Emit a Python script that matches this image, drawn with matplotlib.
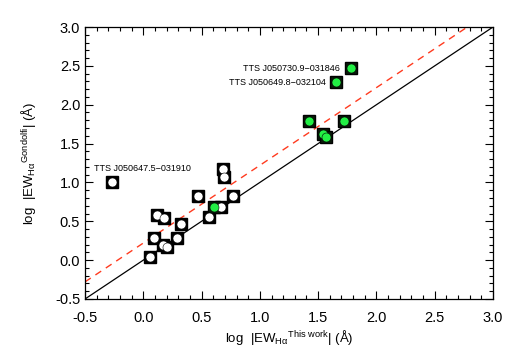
import numpy as np
import matplotlib
matplotlib.use('Agg')
import matplotlib.pyplot as plt
from matplotlib.ticker import MultipleLocator

plt.rcParams['font.family'] = ['Liberation Sans', 'DejaVu Sans']
plt.rcParams['mathtext.fontset'] = 'custom'
plt.rcParams['mathtext.rm'] = 'Liberation Sans'
plt.rcParams['mathtext.it'] = 'Liberation Sans'

# open (white) points: log EW this work vs log EW Gondolfi
x_open = [-0.27, 0.68, 0.69, 0.47, 0.77, 0.67, 0.56, 0.12, 0.18, 0.32, 0.09, 0.29, 0.17, 0.20, 0.06]
y_open = [1.01, 1.17, 1.07, 0.83, 0.83, 0.68, 0.55, 0.58, 0.54, 0.47, 0.29, 0.28, 0.20, 0.17, 0.04]

# green points
x_green = [1.78, 1.65, 1.42, 1.72, 1.54, 1.57, 0.61]
y_green = [2.47, 2.29, 1.79, 1.79, 1.62, 1.59, 0.69]

offset = 0.22
line_x = [-0.5, 3.0]

labels = ['TTS J050647.5\u2212031910', 'TTS J050730.9\u2212031846', 'TTS J050649.8\u2212032104']

fig = plt.figure(figsize=(5.18, 3.54), dpi=100)
ax = fig.add_axes([85/518, 1 - 299/354, 408/518, 272/354])

ax.plot(line_x, line_x, color='black', lw=0.9, zorder=1)
ax.plot(line_x, np.array(line_x) + offset, color='#ff3b1f', lw=1.0, ls=(0, (5, 4)), zorder=1)

ax.plot(x_open, y_open, 's', ms=8, mfc='black', mec='black', ls='none', zorder=2)
ax.plot(x_open, y_open, 'o', ms=6.5, mfc='white', mec='black', mew=0.4, ls='none', zorder=3)
ax.plot(x_green, y_green, 's', ms=8, mfc='#0a1a0a', mec='black', ls='none', zorder=2)
ax.plot(x_green, y_green, 'o', ms=6.5, mfc='#22ee44', mec='black', mew=0.4, ls='none', zorder=3)

ax.text(-0.42, 1.12, labels[0], fontsize=6.5, ha='left', va='bottom')
ax.text(1.69, 2.47, labels[1], fontsize=6.5, ha='right', va='center')
ax.text(1.57, 2.29, labels[2], fontsize=6.5, ha='right', va='center')

ax.set_xlim(-0.5, 3.0)
ax.set_ylim(-0.5, 3.0)
ax.xaxis.set_major_locator(MultipleLocator(0.5))
ax.xaxis.set_minor_locator(MultipleLocator(0.1))
ax.yaxis.set_major_locator(MultipleLocator(0.5))
ax.yaxis.set_minor_locator(MultipleLocator(0.1))
ax.xaxis.set_major_formatter(matplotlib.ticker.FormatStrFormatter('%.1f'))
ax.yaxis.set_major_formatter(matplotlib.ticker.FormatStrFormatter('%.1f'))
ax.tick_params(which='both', direction='in', top=True, right=True, labelsize=10.5, width=0.8)
ax.tick_params(which='major', length=6)
ax.tick_params(which='minor', length=3)
ax.tick_params(axis='x', which='major', pad=9)
for s in ax.spines.values():
    s.set_linewidth(0.9)

ax.set_xlabel(r'log  |EW$_{\mathrm{H\alpha}}$$^{\mathrm{This\ work}}$| (Å)', fontsize=9.5, labelpad=2)
ax.set_ylabel(r'log  |EW$_{\mathrm{H\alpha}}$$^{\mathrm{Gondolfi}}$| (Å)', fontsize=9.5, labelpad=12)

fig.savefig('out.png', dpi=100)
